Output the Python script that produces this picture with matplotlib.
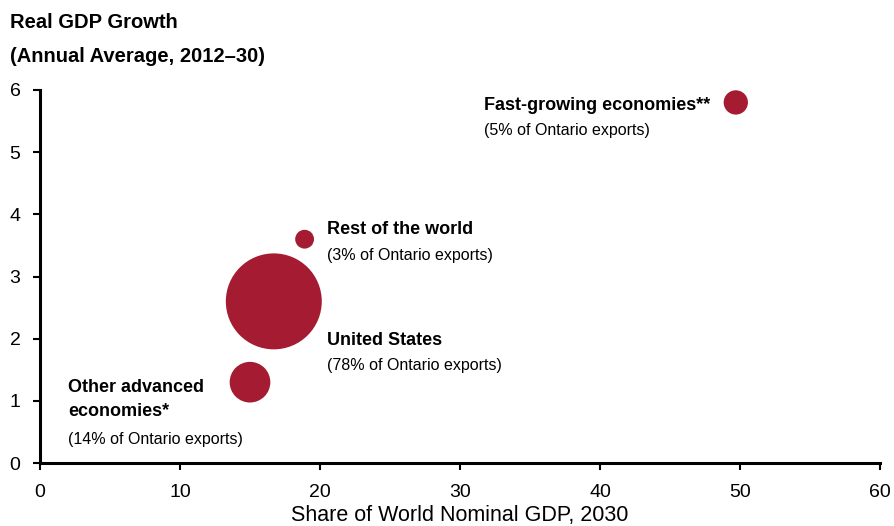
import matplotlib
matplotlib.use("Agg")
import matplotlib.pyplot as plt
from matplotlib import font_manager

names = {f.name for f in font_manager.fontManager.ttflist}
fam = "Liberation Sans Narrow" if "Liberation Sans Narrow" in names else "Liberation Sans"
plt.rcParams['font.family'] = [fam, 'DejaVu Sans']

regions = ["Other advanced\neconomies*", "United States", "Rest of the world", "Fast-growing economies**"]
share_world_gdp = [15.0, 16.7, 18.9, 49.7]
real_gdp_growth = [1.3, 2.6, 3.6, 5.8]
ontario_exports = [14, 78, 3, 5]
x_ticks = [0, 10, 20, 30, 40, 50, 60]
y_ticks = [0, 1, 2, 3, 4, 5, 6]

color = "#A51B32"
W, H = 894, 526
fig = plt.figure(figsize=(W/100, H/100), dpi=100)
ax = fig.add_axes([40/W, (H-463)/H, (880-40)/W, (463-90)/H])

sizes = [e * 61.2 for e in ontario_exports]
ax.scatter(share_world_gdp, real_gdp_growth, s=sizes, color=color, edgecolors='none', zorder=3, clip_on=False)

ax.set_xlim(0, 60)
ax.set_ylim(0, 6)
ax.set_xticks(x_ticks)
ax.set_yticks(y_ticks)
for s in ['top', 'right']:
    ax.spines[s].set_visible(False)
for s in ['left', 'bottom']:
    ax.spines[s].set_linewidth(2.2)
ax.tick_params(axis='both', direction='out', length=5, width=1.5, labelsize=14)
ax.tick_params(axis='x', pad=10)
ax.tick_params(axis='y', pad=9)
ax.set_xlabel("Share of World Nominal GDP, 2030", fontsize=15.5, labelpad=3)

fig.text(10/W, 1 - 22/H, "Real GDP Growth", fontsize=14.5, fontweight='bold', va='center', ha='left')
fig.text(10/W, 1 - 57/H, "(Annual Average, 2012–30)", fontsize=14.5, fontweight='bold', va='center', ha='left')

# label offsets in points relative to each bubble (label name, export line)
offsets = [(-131, 0), (38, -28), (16, 7), (-181, -2)]
for name, x, y, e, (dx, dy) in zip(regions, share_world_gdp, real_gdp_growth, ontario_exports, offsets):
    sub = f"({e}% of Ontario exports)"
    if "\n" in name:
        ax.annotate(name, (x, y), xytext=(dx, dy + 2), textcoords='offset points', fontsize=13,
                    fontweight='bold', ha='left', va='top', linespacing=1.5)
        ax.annotate(sub, (x, y), xytext=(dx, dy - 36), textcoords='offset points', fontsize=11.5,
                    ha='left', va='top')
    else:
        ax.annotate(name, (x, y), xytext=(dx, dy), textcoords='offset points', fontsize=13,
                    fontweight='bold', ha='left', va='center')
        ax.annotate(sub, (x, y), xytext=(dx, dy - 18.5), textcoords='offset points', fontsize=11.5,
                    ha='left', va='center')

fig.savefig("out.png", dpi=100)
